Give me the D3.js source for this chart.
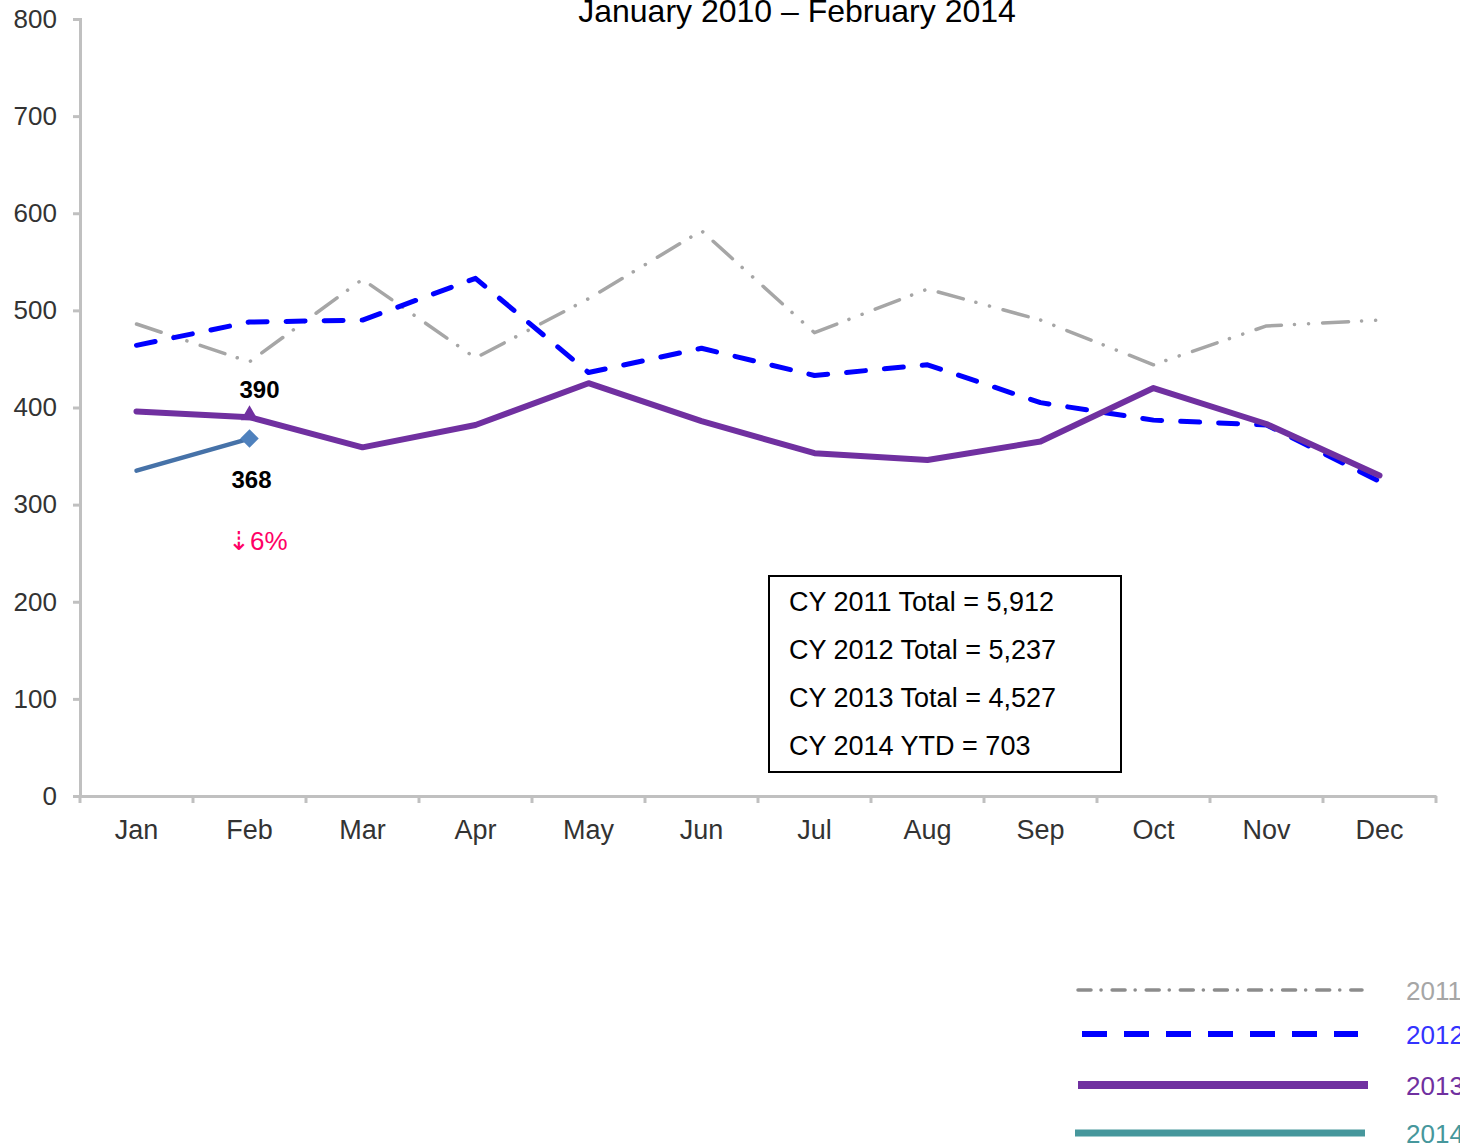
<!DOCTYPE html>
<html>
<head>
<meta charset="utf-8">
<script src="https://cdn.jsdelivr.net/npm/d3@7"></script>
<style>
  body { margin: 0; background: #fff; }
  svg { display: block; font-family: "Liberation Sans", Arial, sans-serif; }
</style>
</head>
<body>
<div class="chart"></div>
<script>
var months = ["Jan", "Feb", "Mar", "Apr", "May", "Jun", "Jul", "Aug", "Sep", "Oct", "Nov", "Dec"];
var yTicks = [0, 100, 200, 300, 400, 500, 600, 700, 800];

var vals2011 = [486, 447, 532, 451, 512, 582, 477, 522, 490, 444, 484, 490];
var vals2012 = [464, 488, 490, 533, 436, 461, 433, 444, 405, 387, 382, 324];
var vals2013 = [396, 390, 359, 382, 425, 386, 353, 346, 365, 420, 383, 330];
var vals2014 = [335, 368];

var totals = ["CY 2011 Total = 5,912", "CY 2012 Total = 5,237", "CY 2013 Total = 4,527", "CY 2014 YTD = 703"];
var legendYears = ["2011", "2012", "2013", "2014"];

var svgWidth = 1460;
var svgHeight = 1145;

var svg = d3.select(".chart")
  .append("svg")
  .attr("width", svgWidth)
  .attr("height", svgHeight);

// scales
var x = d3.scaleBand()
  .domain(months)
  .range([80, 1436])
  .padding(0);

var y = d3.scaleLinear()
  .domain([0, 800])
  .range([796, 19]);

var cx = d => x(d) + x.bandwidth() / 2;

// title (top is cut by the edge, as in the original)
svg.append("text")
  .attr("x", 797)
  .attr("y", 22)
  .attr("text-anchor", "middle")
  .attr("font-size", 32)
  .attr("fill", "#000")
  .text("January 2010 \u2013 February 2014");

// y axis
var leftAxis = d3.axisLeft(y).tickValues(yTicks).tickSize(7).tickPadding(16);
var gy = svg.append("g")
  .attr("transform", "translate(80,0)")
  .call(leftAxis);
gy.select(".domain").attr("stroke", "#C0C0C0").attr("stroke-width", 3);
gy.selectAll(".tick line").attr("stroke", "#C0C0C0").attr("stroke-width", 3);
gy.selectAll(".tick text")
  .attr("font-size", 26)
  .attr("fill", "#333")
  .attr("font-family", "Liberation Sans, Arial, sans-serif");

// x axis: labels centred, ticks on band edges
var bottomAxis = d3.axisBottom(x).tickSize(0).tickPadding(24);
var gx = svg.append("g")
  .attr("transform", "translate(0,796)")
  .call(bottomAxis);
gx.select(".domain").attr("stroke", "#C0C0C0").attr("stroke-width", 3);
gx.selectAll(".tick text")
  .attr("font-size", 27)
  .attr("fill", "#333")
  .attr("font-family", "Liberation Sans, Arial, sans-serif");

var edges = months.map(m => x(m)).concat([x.range()[1]]);
gx.selectAll(".edge")
  .data(edges)
  .enter()
  .append("line")
  .attr("x1", d => d)
  .attr("x2", d => d)
  .attr("y1", 0)
  .attr("y2", 7)
  .attr("stroke", "#C0C0C0")
  .attr("stroke-width", 3);

// lines
function drawLine(vals, color, width, dash) {
  var line = d3.line()
    .x((d, i) => cx(months[i]))
    .y(d => y(d));
  return svg.append("path")
    .datum(vals)
    .attr("d", line)
    .attr("fill", "none")
    .attr("stroke", color)
    .attr("stroke-width", width)
    .attr("stroke-linejoin", "round")
    .attr("stroke-linecap", "round")
    .attr("stroke-dasharray", dash);
}

drawLine(vals2011, "#A6A6A6", 3.5, "26,13,0.1,14,0.1,14");
drawLine(vals2012, "#0000FF", 5, "19,19");
drawLine(vals2013, "#7030A0", 6, null);
drawLine(vals2014, "#4672A8", 4.5, null);

// markers at Feb
svg.append("path")
  .attr("d", d3.symbol(d3.symbolTriangle, 130)())
  .attr("transform", `translate(${cx("Feb")},${y(vals2013[1]) - 2})`)
  .attr("fill", "#7030A0");

svg.append("path")
  .attr("d", d3.symbol(d3.symbolSquare, 170)())
  .attr("transform", `translate(${cx("Feb")},${y(vals2014[1])}) rotate(45)`)
  .attr("fill", "#4F81BD");

// value labels
svg.append("text")
  .attr("x", cx("Feb") + 10)
  .attr("y", y(vals2013[1]) - 19)
  .attr("text-anchor", "middle")
  .attr("font-size", 24)
  .attr("font-weight", "bold")
  .text(vals2013[1]);

svg.append("text")
  .attr("x", cx("Feb") + 2)
  .attr("y", y(vals2014[1]) + 49)
  .attr("text-anchor", "middle")
  .attr("font-size", 24)
  .attr("font-weight", "bold")
  .text(vals2014[1]);

svg.append("text")
  .attr("x", 228)
  .attr("y", 550)
  .attr("font-size", 26)
  .attr("fill", "#FF0066")
  .text("\u21E36%");

// totals box
svg.append("rect")
  .attr("x", 769)
  .attr("y", 576)
  .attr("width", 352)
  .attr("height", 196)
  .attr("fill", "#fff")
  .attr("stroke", "#000")
  .attr("stroke-width", 2);

svg.selectAll(".total")
  .data(totals)
  .enter()
  .append("text")
  .attr("class", "total")
  .attr("x", 789)
  .attr("y", (d, i) => 611 + i * 48)
  .attr("font-size", 27)
  .attr("fill", "#000")
  .text(d => d);

// legend (labels run past the right edge, as in the original)
var legendStyle = [
  { color: "#8C8C8C", text: "#A6A6A6", width: 3.5, dash: "13,10,0.1,11", x1: 1078, x2: 1362, y: 990 },
  { color: "#0000FF", text: "#3333FF", width: 6, dash: "25,17", x1: 1082, x2: 1358, y: 1034 },
  { color: "#7030A0", text: "#7030A0", width: 8, dash: null, x1: 1078, x2: 1368, y: 1085 },
  { color: "#46979C", text: "#46979C", width: 7, dash: null, x1: 1075, x2: 1365, y: 1133 }
];

var leg = svg.selectAll(".legend")
  .data(legendYears)
  .enter()
  .append("g")
  .attr("class", "legend");

leg.append("line")
  .attr("x1", (d, i) => legendStyle[i].x1)
  .attr("x2", (d, i) => legendStyle[i].x2)
  .attr("y1", (d, i) => legendStyle[i].y)
  .attr("y2", (d, i) => legendStyle[i].y)
  .attr("stroke", (d, i) => legendStyle[i].color)
  .attr("stroke-width", (d, i) => legendStyle[i].width)
  .attr("stroke-linecap", (d, i) => i === 0 ? "round" : "butt")
  .attr("stroke-dasharray", (d, i) => legendStyle[i].dash);

leg.append("text")
  .attr("x", 1406)
  .attr("y", (d, i) => legendStyle[i].y + 10)
  .attr("font-size", 26)
  .attr("fill", (d, i) => legendStyle[i].text)
  .text(d => d);
</script>
</body>
</html>
